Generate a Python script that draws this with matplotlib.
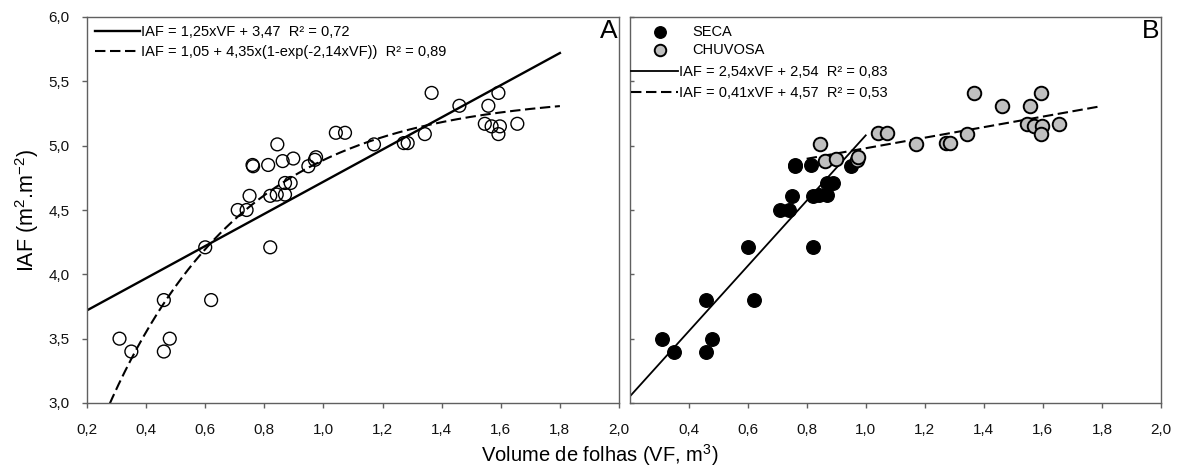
import numpy as np
import matplotlib
matplotlib.use("Agg")
import matplotlib.pyplot as plt

plt.rcParams['font.family'] = ['Liberation Sans', 'DejaVu Sans']
plt.rcParams['mathtext.fontset'] = 'custom'
plt.rcParams['mathtext.rm'] = 'Liberation Sans'
plt.rcParams['mathtext.it'] = 'Liberation Sans:italic'

# SECA (dry season) points
seca_vf = [0.31, 0.35, 0.46, 0.46, 0.48, 0.60, 0.62, 0.82, 0.71, 0.74,
           0.75, 0.76, 0.762, 0.813, 0.82, 0.842, 0.87, 0.87, 0.889, 0.949]
seca_iaf = [3.50, 3.40, 3.80, 3.40, 3.50, 4.21, 3.80, 4.21, 4.50, 4.50,
            4.61, 4.85, 4.84, 4.85, 4.61, 4.62, 4.62, 4.71, 4.71, 4.84]
# CHUVOSA (rainy season) points
chuv_vf = [0.844, 0.862, 0.898, 0.971, 0.975, 1.042, 1.073, 1.171, 1.272, 1.285,
           1.343, 1.366, 1.46, 1.546, 1.558, 1.569, 1.592, 1.597, 1.592, 1.656]
chuv_iaf = [5.01, 4.88, 4.90, 4.89, 4.91, 5.10, 5.10, 5.01, 5.02, 5.02,
            5.09, 5.41, 5.31, 5.17, 5.31, 5.15, 5.41, 5.15, 5.09, 5.17]

# Fitted models
lin_a = (1.25, 3.47)
exp_a = (1.05, 4.35, 2.14)
lin_seca = (2.54, 2.54)
lin_chuv = (0.41, 4.57)
range_a = (0.2, 1.8)
range_seca = (0.2, 1.0)
range_chuv = (0.80, 1.8)

labels_a = ["IAF = 1,25xVF + 3,47  R² = 0,72",
            "IAF = 1,05 + 4,35x(1-exp(-2,14xVF))  R² = 0,89"]
labels_b_pts = ["SECA", "CHUVOSA"]
labels_b_lines = ["IAF = 2,54xVF + 2,54  R² = 0,83",
                  "IAF = 0,41xVF + 4,57  R² = 0,53"]

xticks_a = [0.2, 0.4, 0.6, 0.8, 1.0, 1.2, 1.4, 1.6, 1.8, 2.0]
xticks_b = [0.4, 0.6, 0.8, 1.0, 1.2, 1.4, 1.6, 1.8, 2.0]
yticks = [3.0, 3.5, 4.0, 4.5, 5.0, 5.5, 6.0]

def fmt(v):
    return f"{v:.1f}".replace('.', ',')

fig = plt.figure(figsize=(11.79, 4.76), dpi=100)
W, H = 1179, 476
ax_a = fig.add_axes([87 / W, 1 - 403 / H, (619 - 87) / W, (403 - 17) / H])
ax_b = fig.add_axes([629.5 / W, 1 - 403 / H, (1161 - 629.5) / W, (403 - 17) / H])

spine_col = '#606060'
for ax in (ax_a, ax_b):
    ax.set_xlim(0.2, 2.0)
    ax.set_ylim(3.0, 6.0)
    for s in ax.spines.values():
        s.set_color(spine_col)
        s.set_linewidth(1.0)
    ax.tick_params(colors=spine_col, labelcolor='#111111', labelsize=11, length=3.6, width=1)
    ax.tick_params(axis='x', pad=11)
    ax.tick_params(axis='y', pad=9)

DASH = (5, 2.2)
LFS = 10.5

# Panel A
all_vf = seca_vf + chuv_vf
all_iaf = seca_iaf + chuv_iaf
ax_a.scatter(all_vf, all_iaf, s=85, facecolors='none', edgecolors='black', linewidths=1.0, zorder=3)
xa = np.linspace(range_a[0], range_a[1], 300)
l1, = ax_a.plot(xa, lin_a[0] * xa + lin_a[1], color='black', lw=1.7)
l2, = ax_a.plot(xa, exp_a[0] + exp_a[1] * (1 - np.exp(-exp_a[2] * xa)), color='black', lw=1.5,
                dashes=DASH)
ax_a.set_xticks(xticks_a)
ax_a.set_xticklabels([fmt(v) for v in xticks_a])
ax_a.set_yticks(yticks)
ax_a.set_yticklabels([fmt(v) for v in yticks])
ax_a.legend([l1, l2], labels_a, loc='upper left', frameon=False, fontsize=LFS,
            handlelength=3.1, handletextpad=0.08, labelspacing=0.4,
            borderaxespad=0.15, bbox_to_anchor=(0.0, 1.0))
ax_a.text(0.997, 0.995, "A", transform=ax_a.transAxes, ha='right', va='top', fontsize=19)

# Panel B
s1 = ax_b.scatter(seca_vf, seca_iaf, s=95, color='black', edgecolors='black', linewidths=1.0, zorder=3)
s2 = ax_b.scatter(chuv_vf, chuv_iaf, s=95, color='#c0c0c0', edgecolors='black', linewidths=1.4, zorder=3)
xs = np.linspace(range_seca[0], range_seca[1], 100)
l3, = ax_b.plot(xs, lin_seca[0] * xs + lin_seca[1], color='black', lw=1.3)
xc = np.linspace(range_chuv[0], range_chuv[1], 100)
l4, = ax_b.plot(xc, lin_chuv[0] * xc + lin_chuv[1], color='black', lw=1.5, dashes=DASH)
ax_b.set_xticks(xticks_b)
ax_b.set_xticklabels([fmt(v) for v in xticks_b])
ax_b.set_yticks(yticks)
ax_b.tick_params(axis='y', direction='in', labelleft=False, length=3)

ax_h = 386.0
ax_w = 531.5
leg_pts = ax_b.legend([s1, s2], labels_b_pts, loc='upper left', frameon=False, fontsize=LFS,
                      handlelength=3.87, handletextpad=0.3, labelspacing=0.3,
                      borderaxespad=0.0, bbox_to_anchor=(-4.0 / ax_w, 1 - 2.0 / ax_h),
                      markerscale=0.85)
ax_b.add_artist(leg_pts)
ax_b.legend([l3, l4], labels_b_lines, loc='upper left', frameon=False, fontsize=LFS,
            handlelength=3.2, handletextpad=0.1, labelspacing=0.52,
            borderaxespad=0.0, bbox_to_anchor=(-4.0 / ax_w, 1 - 42.0 / ax_h))
ax_b.text(0.997, 0.995, "B", transform=ax_b.transAxes, ha='right', va='top', fontsize=19)

fig.text(27 / W, 1 - 210 / H, "IAF (m$^2$.m$^{-2}$)", rotation=90, ha='center', va='center', fontsize=15.5)
fig.text(600 / W, 1 - 455 / H, "Volume de folhas (VF, m$^3$)", ha='center', va='center', fontsize=14.5)

fig.savefig("out.png", dpi=100)
